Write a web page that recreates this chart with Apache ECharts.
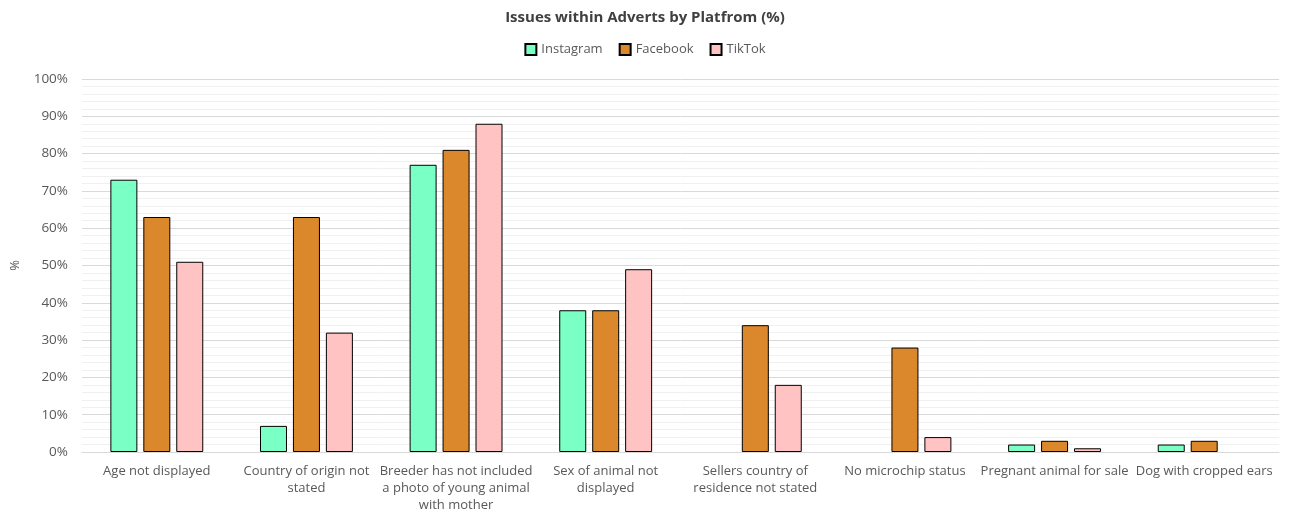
<!DOCTYPE html>
<html>
<head>
<meta charset="utf-8">
<script src="https://cdn.jsdelivr.net/npm/echarts@6/dist/echarts.min.js"></script>
<style>
  html, body { margin: 0; padding: 0; background: #fff; }
  #chart { width: 1290px; height: 516px; }
</style>
</head>
<body>
<div id="chart"></div>
<script>
var categories = [
  'Age not displayed',
  'Country of origin not\nstated',
  'Breeder has not included\na photo of young animal\nwith mother',
  'Sex of animal not\ndisplayed',
  'Sellers country of\nresidence not stated',
  'No microchip status',
  'Pregnant animal for sale',
  'Dog with cropped ears'
];
var instagram = [73, 7, 77, 38, 0, 0, 2, 2];
var facebook = [63, 63, 81, 38, 34, 28, 3, 3];
var tiktok = [51, 32, 88, 49, 18, 4, 1, 0];

var font = '"Open Sans", sans-serif';

// zero values are left blank so no flat bar outline shows on the axis
function barSeries(name, data, color) {
  return {
    name: name,
    type: 'bar',
    data: data.map(function (v) { return v === 0 ? '-' : v; }),
    barWidth: 27,
    barGap: '22%',
    itemStyle: { color: color, borderColor: '#000', borderWidth: 1 }
  };
}

var myChart = echarts.init(document.getElementById('chart'));
myChart.setOption({
  animation: false,
  textStyle: { fontFamily: font },
  title: {
    text: 'Issues within Adverts by Platfrom (%)',
    left: 'center',
    top: 5,
    textStyle: { fontFamily: font, fontSize: 15, fontWeight: 'bold', color: '#404040' }
  },
  legend: {
    top: 38,
    left: 'center',
    itemWidth: 11,
    itemHeight: 11,
    itemGap: 16,
    icon: 'rect',
    textStyle: { fontFamily: font, fontSize: 13, color: '#595959' },
    data: ['Instagram', 'Facebook', 'TikTok']
  },
  grid: { left: 82, right: 11, top: 79, bottom: 64 },
  xAxis: {
    type: 'category',
    data: categories,
    axisLine: { lineStyle: { color: '#d9d9d9' } },
    axisTick: { alignWithLabel: true, length: 4, lineStyle: { color: '#d9d9d9' } },
    axisLabel: { fontFamily: font, fontSize: 13, color: '#595959', interval: 0, lineHeight: 17, margin: 11 }
  },
  yAxis: {
    type: 'value',
    min: 0,
    max: 100,
    interval: 10,
    name: '%',
    nameLocation: 'middle',
    nameGap: 60,
    nameRotate: 90,
    nameTextStyle: { fontFamily: font, fontSize: 13, color: '#595959' },
    axisLabel: { formatter: '{value}%', fontFamily: font, fontSize: 13.5, color: '#595959', margin: 14 },
    axisLine: { show: false },
    axisTick: { show: false },
    splitLine: { lineStyle: { color: '#d9d9d9' } },
    minorTick: { show: false, splitNumber: 5 },
    minorSplitLine: { show: true, lineStyle: { color: '#f0f0f0' } }
  },
  series: [
    barSeries('Instagram', instagram, '#7affc4'),
    barSeries('Facebook', facebook, '#db872b'),
    barSeries('TikTok', tiktok, '#ffc3c3')
  ]
});
</script>
</body>
</html>
